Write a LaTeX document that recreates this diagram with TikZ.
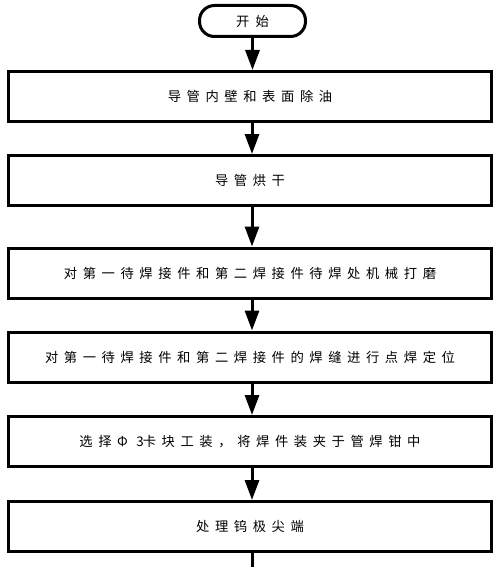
\documentclass[tikz,border=0pt]{standalone}
\usepackage{fontspec}
\newfontfamily\cjk[LetterSpace=42]{Noto Sans CJK SC}
\usetikzlibrary{arrows.meta}
\tikzset{
  stepbox/.style={draw=black, line width=3pt, fill=white, minimum width=483pt, minimum height=50pt, inner sep=0pt, font=\cjk\fontsize{13.3pt}{15pt}\selectfont},
  startbox/.style={draw=black, line width=3pt, fill=white, rounded corners=15pt, minimum width=106pt, minimum height=31pt, inner sep=0pt, font=\cjk\fontsize{13.3pt}{15pt}\selectfont},
  flow/.style={line width=3pt, -{Triangle[width=14pt,length=20pt]}},
}
\begin{document}
\begin{tikzpicture}[x=1pt,y=-1pt]
\useasboundingbox[fill=white] (0,0) rectangle (500,567);
\node[startbox] (s) at (252.5,21) {开\hspace{6pt}始};
\node[stepbox] (b1) at (250,96.5) {导管内壁和表面除油};
\node[stepbox] (b2) at (250,180.5) {导管烘干};
\node[stepbox] (b3) at (250,273) {对第一待焊接件和第二焊接件待焊处机械打磨};
\node[stepbox] (b4) at (250,357) {对第一待焊接件和第二焊接件的焊缝进行点焊定位};
\node[stepbox] (b5) at (250,441.5) {选择Φ 3\kern-1pt 卡块工装，将焊件装夹于管焊钳中};
\node[stepbox] (b6) at (250,526.5) {处理钨极尖端};
\coordinate (e) at (252,567);
\draw[flow] (s.south) -- (s.south |- b1.north);
\draw[flow] ([xshift=2pt]b1.south) -- ([xshift=2pt]b2.north);
\draw[flow] ([xshift=2pt]b2.south) -- ([xshift=2pt]b3.north);
\draw[flow] ([xshift=2pt]b3.south) -- ([xshift=2pt]b4.north);
\draw[flow] ([xshift=2pt]b4.south) -- ([xshift=2pt]b5.north);
\draw[flow] ([xshift=2pt]b5.south) -- ([xshift=2pt]b6.north);
\draw[line width=3pt] ([xshift=2pt]b6.south) -- (e);
\end{tikzpicture}
\end{document}
